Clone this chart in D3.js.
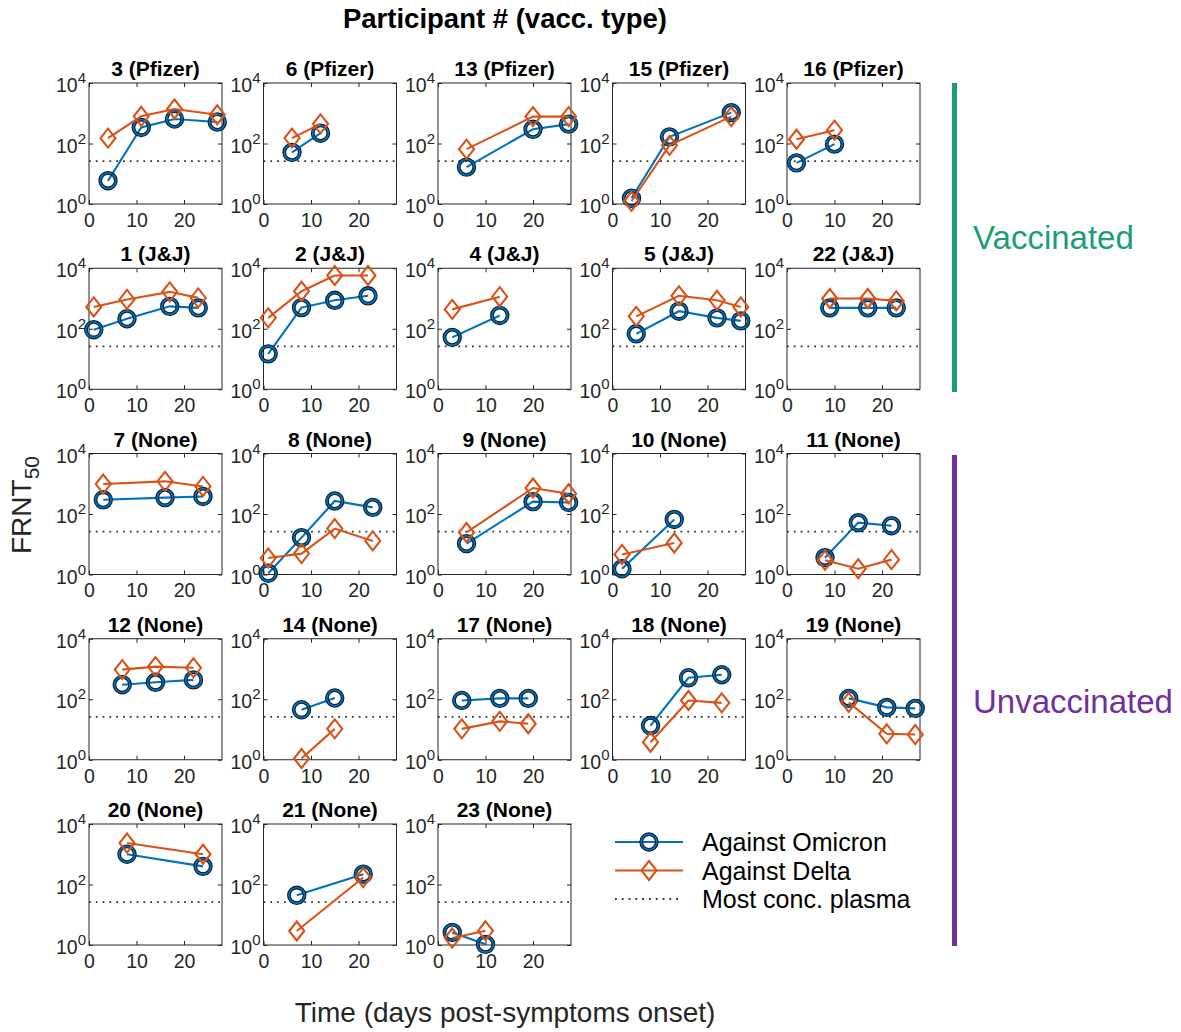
<!DOCTYPE html>
<html>
<head>
<meta charset="utf-8">
<script src="https://cdn.jsdelivr.net/npm/d3@7"></script>
<style>
  body { margin: 0; background: #fff; }
  svg { font-family: "Liberation Sans", Arial, sans-serif; }
</style>
</head>
<body>
<script>
// participant panels, in reading order (5 per row)
var participants = ["3 (Pfizer)", "6 (Pfizer)", "13 (Pfizer)", "15 (Pfizer)", "16 (Pfizer)",
  "1 (J&J)", "2 (J&J)", "4 (J&J)", "5 (J&J)", "22 (J&J)",
  "7 (None)", "8 (None)", "9 (None)", "10 (None)", "11 (None)",
  "12 (None)", "14 (None)", "17 (None)", "18 (None)", "19 (None)",
  "20 (None)", "21 (None)", "23 (None)"];

// days post-symptoms onset for each participant
var days = [[4, 11, 18, 27], [6, 12], [6, 20, 27.5], [4, 12, 25], [2, 10],
  [1, 8, 17, 23], [1, 8, 15, 22], [3, 13], [5, 14, 22, 27], [9, 17, 23],
  [3, 16, 24], [1, 8, 15, 23], [6, 20, 27.5], [2, 13], [8, 15, 22],
  [7, 14, 22], [8, 15], [5, 13, 19], [8, 16, 23], [13, 21, 27],
  [8, 24], [7, 21], [3, 10]];

// FRNT50 against Omicron
var omicron = [[5.9, 339, 646, 513], [51, 219], [16.6, 295, 437], [1.55, 166, 1047], [22.9, 95],
  [93, 214, 550, 490], [14.8, 501, 871, 1230], [52, 275], [68, 380, 229, 182], [490, 490, 490],
  [295, 347, 380], [1.1, 16.6, 269, 166], [10.5, 257, 240], [1.55, 66], [3.6, 52, 41],
  [302, 363, 437], [45, 110], [91, 107, 107], [13.5, 513, 646], [107, 54, 50],
  [1000, 398], [44, 219], [2.6, 1.05]];

// FRNT50 against Delta
var delta = [[150, 794, 1380, 891], [151, 447], [65, 776, 776], [1.23, 87, 776], [138, 275],
  [525, 933, 1660, 1047], [229, 1738, 5754, 5754], [437, 1148], [257, 1230, 871, 525], [1000, 1000, 832],
  [977, 1202, 813], [3.5, 4.9, 33, 12.9], [24.5, 724, 468], [4.6, 11], [2.95, 1.55, 3.1],
  [955, 1202, 1096], [1.1, 10.5], [10.5, 18.6, 15.5], [3.8, 91, 76], [79, 7.2, 6.8],
  [2344, 1000], [2.9, 170], [1.7, 2.95]];

var xTicks = [0, 10, 20];
var yExponents = [0, 2, 4];
var plasmaLevel = 26;   // most concentrated plasma
var legendNames = ["Against Omicron", "Against Delta", "Most conc. plasma"];
var groupNames = ["Vaccinated", "Unvaccinated"];

var width = 1181, height = 1032;
var blue = "#0072BD", orange = "#D95319", axisCol = "#262626";
var left0 = 89, colStep = 174.5, top0 = 83, rowStep = 185.25;
var boxW = 133, boxH = 121;

var svg = d3.select("body").append("svg")
    .attr("width", width)
    .attr("height", height);

var x = d3.scaleLinear().domain([0, 28]).range([0, boxW]);
var y = d3.scaleLog().domain([1, 10000]).range([boxH, 0]);

var line = d3.line()
    .x(function(d) { return x(d[0]); })
    .y(function(d) { return y(d[1]); });

function drawCircle(g, cx, cy) {
  g.append("circle").attr("cx", cx).attr("cy", cy).attr("r", 7.8)
    .attr("fill", "none").attr("stroke", "#0b1a2a").attr("stroke-width", 3.8);
  g.append("circle").attr("cx", cx).attr("cy", cy).attr("r", 7.8)
    .attr("fill", "none").attr("stroke", blue).attr("stroke-width", 1.7);
}

function drawDiamond(g, cx, cy) {
  g.append("path")
    .attr("d", "M" + cx + "," + (cy - 9.5) + "L" + (cx + 7.5) + "," + cy + "L" + cx + "," + (cy + 9.5) + "L" + (cx - 7.5) + "," + cy + "Z")
    .attr("fill", "none").attr("stroke", orange).attr("stroke-width", 2.1);
}

participants.forEach(function(name, i) {
  var col = i % 5, row = Math.floor(i / 5);
  var g = svg.append("g")
      .attr("transform", "translate(" + (left0 + col * colStep) + "," + (top0 + row * rowStep) + ")");

  // box
  g.append("rect").attr("width", boxW).attr("height", boxH)
    .attr("fill", "#fff").attr("stroke", axisCol).attr("stroke-width", 1);

  // x axis (ticks inside)
  var xa = g.append("g").attr("transform", "translate(0," + boxH + ")")
    .call(d3.axisBottom(x).tickValues(xTicks).tickSizeInner(-4).tickSizeOuter(0).tickPadding(9));
  xa.select(".domain").remove();
  xa.selectAll("line").attr("stroke", axisCol);
  xa.selectAll("text").attr("font-size", 19.5).attr("fill", axisCol)
    .attr("font-family", "Liberation Sans, Arial, sans-serif");
  var xt = g.append("g").call(d3.axisTop(x).tickValues(xTicks).tickSizeInner(-4).tickSizeOuter(0).tickFormat(""));
  xt.select(".domain").remove();
  xt.selectAll("line").attr("stroke", axisCol);

  // y axis (log, ticks inside)
  var yvals = yExponents.map(function(e) { return Math.pow(10, e); });
  var ya = g.append("g").call(d3.axisLeft(y).tickValues(yvals).tickSizeInner(-4).tickSizeOuter(0).tickFormat(""));
  ya.select(".domain").remove();
  ya.selectAll("line").attr("stroke", axisCol);
  var yr = g.append("g").attr("transform", "translate(" + boxW + ",0)")
    .call(d3.axisRight(y).tickValues(yvals).tickSizeInner(-4).tickSizeOuter(0).tickFormat(""));
  yr.select(".domain").remove();
  yr.selectAll("line").attr("stroke", axisCol);

  yExponents.forEach(function(e) {
    var t = g.append("text")
      .attr("x", -3).attr("y", y(Math.pow(10, e)) + 9)
      .attr("text-anchor", "end").attr("fill", axisCol).attr("font-size", 19.5);
    t.append("tspan").text("10");
    t.append("tspan").attr("dy", -9).attr("font-size", 15).text(e);
  });

  // most concentrated plasma
  g.append("line")
    .attr("x1", 0).attr("x2", boxW)
    .attr("y1", y(plasmaLevel)).attr("y2", y(plasmaLevel))
    .attr("stroke", "#333").attr("stroke-width", 1.8)
    .attr("stroke-dasharray", "1.8,5");

  var om = days[i].map(function(d, j) { return [d, omicron[i][j]]; });
  var de = days[i].map(function(d, j) { return [d, delta[i][j]]; });

  g.append("path").datum(om).attr("d", line)
    .attr("fill", "none").attr("stroke", blue).attr("stroke-width", 2.1);
  om.forEach(function(p) { drawCircle(g, x(p[0]), y(p[1])); });

  g.append("path").datum(de).attr("d", line)
    .attr("fill", "none").attr("stroke", orange).attr("stroke-width", 2.1);
  de.forEach(function(p) { drawDiamond(g, x(p[0]), y(p[1])); });

  // panel title
  g.append("text")
    .attr("x", boxW / 2).attr("y", -7)
    .attr("text-anchor", "middle")
    .attr("font-size", 21).attr("font-weight", "bold")
    .text(name);
});

// main title and axis labels
svg.append("text")
  .attr("x", 505).attr("y", 28)
  .attr("text-anchor", "middle")
  .attr("font-size", 27.5).attr("font-weight", "bold")
  .text("Participant # (vacc. type)");

svg.append("text")
  .attr("x", 505).attr("y", 1022)
  .attr("text-anchor", "middle")
  .attr("font-size", 28).attr("fill", axisCol)
  .text("Time (days post-symptoms onset)");

var yl = svg.append("text")
  .attr("transform", "translate(31,505) rotate(-90)")
  .attr("text-anchor", "middle")
  .attr("font-size", 28).attr("fill", axisCol);
yl.append("tspan").text("FRNT");
yl.append("tspan").attr("dy", 8).attr("font-size", 21).text("50");

// legend
var lg = svg.append("g").attr("transform", "translate(615,842)");
legendNames.forEach(function(n, i) {
  var row = lg.append("g").attr("transform", "translate(0," + (i * 28.5) + ")");
  if (i === 0) {
    row.append("line").attr("x1", 0).attr("x2", 68).attr("stroke", blue).attr("stroke-width", 2.1);
    drawCircle(row, 34, 0);
  } else if (i === 1) {
    row.append("line").attr("x1", 0).attr("x2", 68).attr("stroke", orange).attr("stroke-width", 2.1);
    drawDiamond(row, 34, 0);
  } else {
    row.append("line").attr("x1", 0).attr("x2", 68).attr("stroke", "#333")
      .attr("stroke-width", 1.8).attr("stroke-dasharray", "1.8,5");
  }
  row.append("text").attr("x", 87).attr("y", 9)
    .attr("font-size", 25).attr("fill", "#000").text(n);
});

// group bars
var groups = [
  {name: groupNames[0], color: "#1B9E77", y1: 83, y2: 392, ty: 249},
  {name: groupNames[1], color: "#7030A0", y1: 455, y2: 946, ty: 713}
];
groups.forEach(function(gr) {
  svg.append("rect").attr("x", 952).attr("y", gr.y1).attr("width", 5).attr("height", gr.y2 - gr.y1)
    .attr("fill", gr.color);
  svg.append("text").attr("x", 973).attr("y", gr.ty)
    .attr("font-size", 33).attr("fill", gr.color).text(gr.name);
});
</script>
</body>
</html>
